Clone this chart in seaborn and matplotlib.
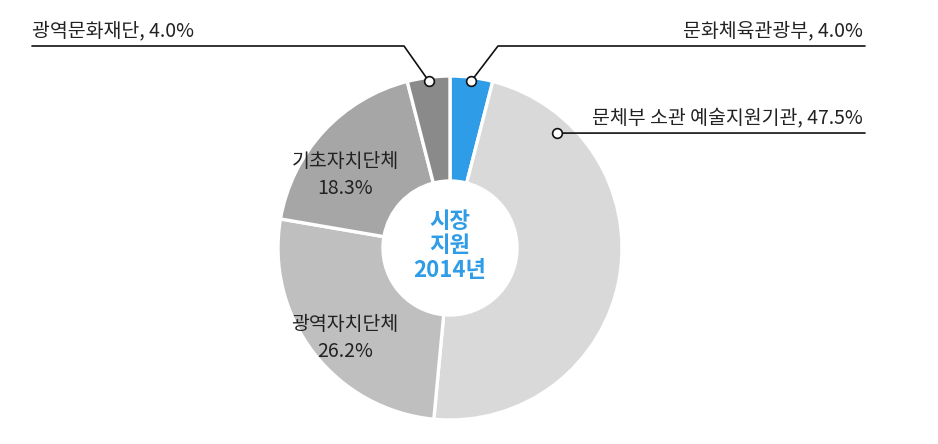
import numpy as np
import matplotlib.pyplot as plt
import seaborn as sns

# 2014 시장 지원 비중 (%)
categories = ['문화체육관광부', '문체부 소관 예술지원기관', '광역자치단체', '기초자치단체', '광역문화재단']
shares = [4.0, 47.5, 26.2, 18.3, 4.0]
colors = ['#2e9ce6', '#d9d9d9', '#bfbfbf', '#a6a6a6', '#8a8a8a']
center_title = '시장\n지원\n2014년'

sns.set_style('white')
plt.rcParams['font.family'] = ['Noto Sans CJK KR', 'DejaVu Sans']

W_PX, H_PX = 938, 444
fig = plt.figure(figsize=(W_PX / 100, H_PX / 100), dpi=100)
ax = fig.add_axes([0, 0, 1, 1])

cx, cy = 450, H_PX - 248
R, ring = 172, 105
txt = '#222222'

wedges, _ = ax.pie(
    shares, colors=colors, startangle=90, counterclock=False,
    center=(cx, cy), radius=R,
    wedgeprops=dict(width=ring, edgecolor='white', linewidth=2.4),
)
ax.set_xlim(0, W_PX)
ax.set_ylim(0, H_PX)
ax.set_aspect('equal')
ax.axis('off')

# start/end angle of each slice (clockwise from 12 o'clock)
ends = 90 - 3.6 * np.cumsum(shares)
starts = np.concatenate([[90], ends[:-1]])


def polar(theta, r):
    t = np.deg2rad(theta)
    return cx + r * np.cos(t), cy + r * np.sin(t)


def callout(theta, r, elbow, end, label, ha):
    x0, y0 = polar(theta, r)
    xs = [x0] + [p[0] for p in (elbow, end) if p is not None]
    ys = [y0] + [p[1] for p in (elbow, end) if p is not None]
    ax.plot(xs, ys, color='#111111', lw=1.2, zorder=3)
    ax.plot(x0, y0, 'o', ms=7, mfc='white', mec='#111111', mew=1.2, zorder=4)
    tx = end[0] + (-2 if ha == 'right' else 0)
    ax.text(tx, end[1] + 15, label, ha=ha, va='center', fontsize=14, color=txt)


def pct(i):
    return f'{categories[i]}, {shares[i]:.1f}%'


# 문화체육관광부
callout((starts[0] + ends[0]) / 2, 168, (498, H_PX - 46), (865, H_PX - 46), pct(0), 'right')
# 문체부 소관 예술지원기관
callout(starts[1] - 0.167 * (starts[1] - ends[1]), 157, None, (865, H_PX - 133), pct(1), 'right')
# 광역문화재단
callout((starts[4] + ends[4]) / 2, 168, (404, H_PX - 46), (32, H_PX - 46), pct(4), 'left')

# labels inside the ring
ax.text(345, H_PX - 338, f'{categories[2]}\n{shares[2]:.1f}%', ha='center', va='center',
        fontsize=14, color=txt, linespacing=1.35)
ax.text(345, H_PX - 175, f'{categories[3]}\n{shares[3]:.1f}%', ha='center', va='center',
        fontsize=14, color=txt, linespacing=1.35)

ax.text(cx, cy + 2, center_title, ha='center', va='center', fontsize=16,
        fontweight='bold', color=colors[0], linespacing=1.1)

fig.savefig('out.png', dpi=100, facecolor='white')
